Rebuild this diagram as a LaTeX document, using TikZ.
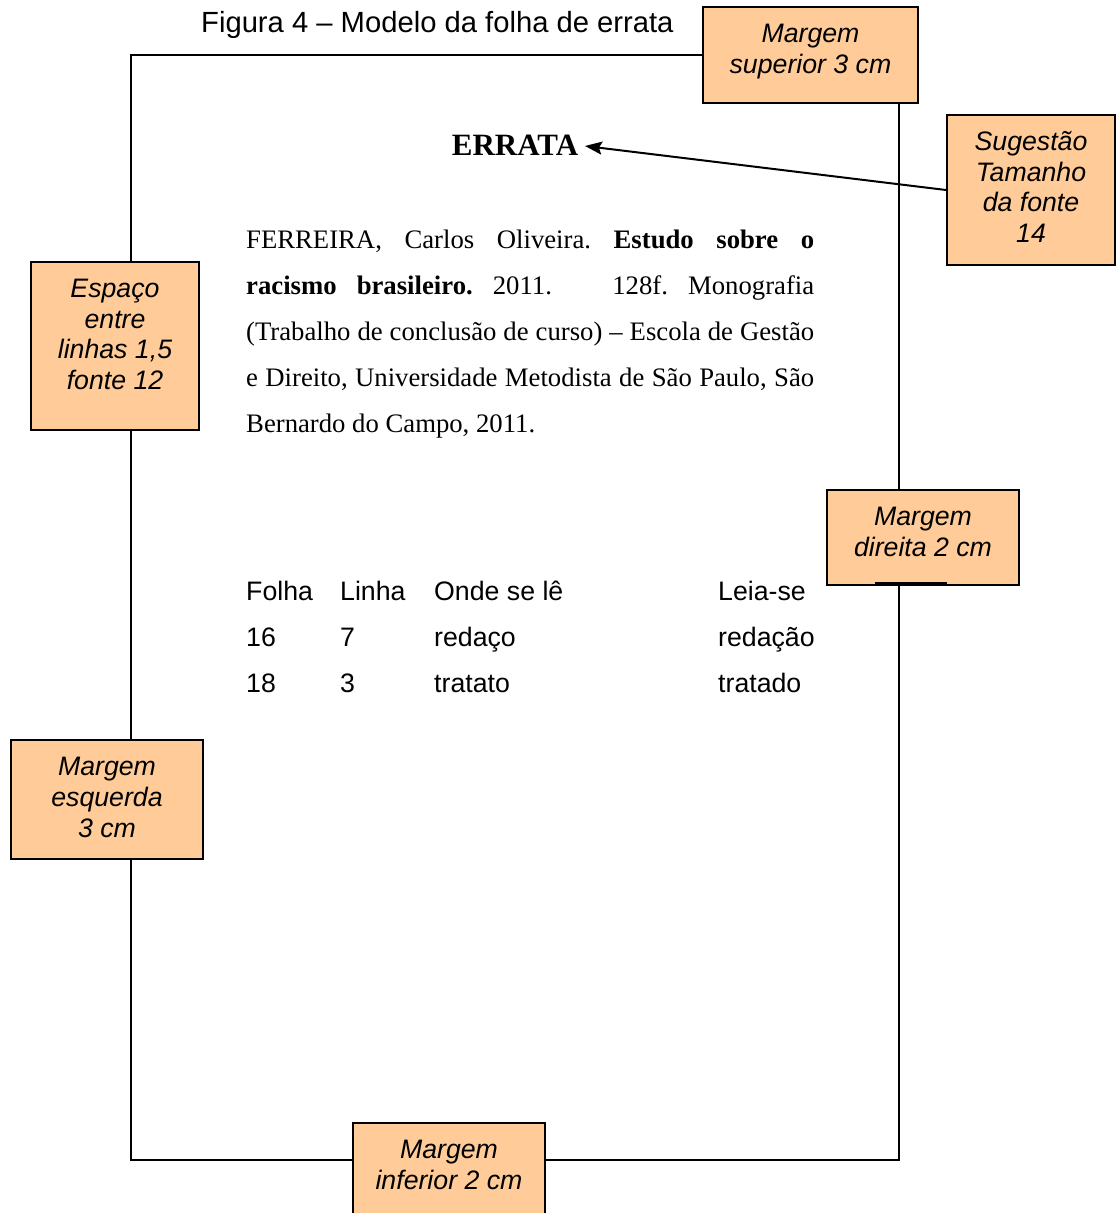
\documentclass[tikz,border=0pt]{standalone}
\usepackage{fontspec}
\setmainfont{Liberation Serif}
\newfontfamily\arial{Liberation Sans}
\usetikzlibrary{arrows.meta}
\definecolor{boxfill}{HTML}{FFCC99}
\tikzset{
  notebox/.style={draw=black, line width=2pt, fill=boxfill, inner sep=0pt},
  notetext/.style={align=center, inner sep=0pt,
    font=\arial\itshape\fontsize{26.7}{30.8}\selectfont},
  page/.style={draw=black, line width=2pt},
  pointer/.style={draw=black, line width=2pt, -{Stealth[length=17pt,width=13pt,inset=3pt]}},
  serif/.style={font=\fontsize{26.7}{30}\selectfont, anchor=base west, inner sep=0pt},
  sans/.style={font=\arial\fontsize{26.7}{30}\selectfont, anchor=base west, inner sep=0pt}
}
\begin{document}
\frenchspacing
\begin{tikzpicture}[x=1pt,y=-1pt]
\useasboundingbox (0,0) rectangle (1117,1213);
% page
\draw[page] (131,55) rectangle (899,1160);
% caption
\node[sans, font=\arial\fontsize{29.2}{32}\selectfont] (cap) at (201,32) {Figura 4 – Modelo da folha de errata};
% title
\node[font=\bfseries\fontsize{31}{34}\selectfont, anchor=base, inner sep=0pt] (errata) at (515,155) {ERRATA};
\coordinate (errtip) at (585,146);
% reference paragraph
\node[serif] (l1) at (246,248) {\makebox[568pt][s]{FERREIRA, Carlos Oliveira. \textbf{Estudo sobre o}}};
\node[serif] (l2) at (246,294) {\makebox[568pt][s]{\textbf{racismo brasileiro.} 2011.\ \ \ 128f. Monografia}};
\node[serif] (l3) at (246,340) {\makebox[568pt][s]{(Trabalho de conclusão de curso) – Escola de Gestão}};
\node[serif] (l4) at (246,386) {\makebox[568pt][s]{e Direito, Universidade Metodista de São Paulo, São}};
\node[serif] (l5) at (246,432) {Bernardo do Campo, 2011.};
% table
\node[sans] (h1) at (246,600) {Folha};
\node[sans] (h2) at (340,600) {Linha};
\node[sans] (h3) at (434,600) {Onde se lê};
\node[sans] (h4) at (718,600) {Leia-se};
\node[sans] (a1) at (246,646) {16};
\node[sans] (a2) at (340,646) {7};
\node[sans] (a3) at (434,646) {redaço};
\node[sans] (a4) at (718,646) {redação};
\node[sans] (b1) at (246,692) {18};
\node[sans] (b2) at (340,692) {3};
\node[sans] (b3) at (434,692) {tratato};
\node[sans] (b4) at (718,692) {tratado};
% notes
\node[notebox, minimum width=215pt, minimum height=96pt] (sup) at (810.5,55) {};
\node[notetext] (supt) at ([yshift=3.5pt]sup.center) {Margem\\superior 3 cm};
\node[notebox, minimum width=168pt, minimum height=150pt] (sug) at (1031,190) {};
\node[notetext] (sugt) at ([yshift=3pt]sug.center) {Sugestão\\Tamanho\\da fonte\\14};
\node[notebox, minimum width=168pt, minimum height=168pt] (esp) at (115,346) {};
\node[notetext] (espt) at ([yshift=11.5pt]esp.center) {Espaço\\entre\\linhas 1,5\\fonte 12};
\node[notebox, minimum width=192pt, minimum height=95pt] (dir) at (923,537.5) {};
\node[notetext] (dirt) at ([yshift=5.5pt]dir.center) {Margem\\direita 2 cm};
\node[notebox, minimum width=192pt, minimum height=119pt] (esq) at (107,799.5) {};
\node[notetext] (esqt) at ([yshift=2pt]esq.center) {Margem\\esquerda\\3 cm};
\node[notebox, minimum width=192pt, minimum height=100pt, anchor=north] (inf) at (449,1122) {};
\node[notetext] (inft) at ([yshift=8pt]inf.center) {Margem\\inferior 2 cm};
\draw[line width=3pt] (875,583) -- (947,583);
% pointer
\draw[pointer] (sug.west) -- (errtip);
\end{tikzpicture}
\end{document}
